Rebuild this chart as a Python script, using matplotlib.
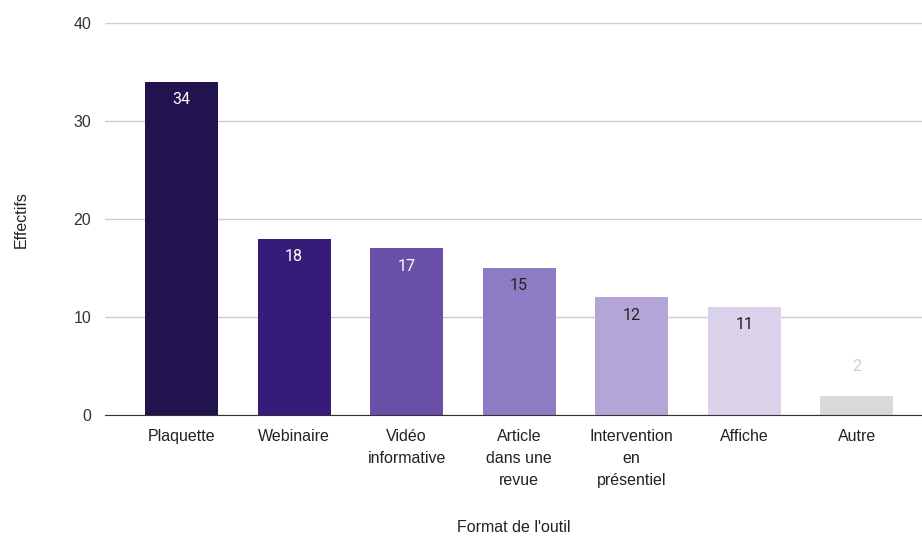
import matplotlib.pyplot as plt
import numpy as np

# données
categories = ['Plaquette', 'Webinaire', 'Vidéo\ninformative', 'Article\ndans une\nrevue',
              'Intervention\nen\nprésentiel', 'Affiche', 'Autre']
effectifs = [34, 18, 17, 15, 12, 11, 2]
bar_colors = ['#21134d', '#361c78', '#6a4fa8', '#8d7cc3', '#b3a6d6', '#dad2ea', '#d9d9d9']
label_colors = ['#ffffff', '#ffffff', '#ffffff', '#222222', '#222222', '#222222', '#d0d0d0']
yticks = [0, 10, 20, 30, 40]

fig = plt.figure(figsize=(9.22, 5.37), dpi=100)
ax = fig.add_axes([0.114, 0.227, 0.886, 0.73])

x = np.arange(len(categories))
bars = ax.bar(x, effectifs, width=0.65, color=bar_colors, zorder=2)

for i, (b, v) in enumerate(zip(bars, effectifs)):
    if v > 5:
        ax.text(b.get_x() + b.get_width() / 2, v - 1.8, str(v), ha='center', va='center',
                color=label_colors[i], fontsize=11.5, family='Roboto')
    else:
        ax.text(b.get_x() + b.get_width() / 2, v + 3, str(v), ha='center', va='center',
                color=label_colors[i], fontsize=11.5, family='Roboto')

ax.set_ylim(0, 40)
ax.set_xlim(-0.68, 6.58)
ax.set_yticks(yticks)
ax.set_xticks(x)
ax.set_xticklabels(categories, family='Liberation Sans', fontsize=11.5, color='#222222',
                   linespacing=1.6)
for lab in ax.get_yticklabels():
    lab.set_family('Liberation Sans')
    lab.set_fontsize(11.5)
    lab.set_color('#333333')

ax.yaxis.grid(True, color='#cccccc', linewidth=1, zorder=0)
ax.tick_params(length=0, pad=10)
ax.tick_params(axis='x', pad=10)
for s in ['top', 'right', 'left']:
    ax.spines[s].set_visible(False)
ax.spines['bottom'].set_color('#333333')
ax.spines['bottom'].set_zorder(3)

ax.set_xlabel("Format de l'outil", family='Liberation Sans', fontsize=11.5, color='#222222')
ax.xaxis.set_label_coords(0.5, -0.286)
ax.xaxis.label.set_va('center')
ax.set_ylabel('Effectifs', family='Liberation Sans', fontsize=11.5, color='#222222', labelpad=32)

plt.savefig('out.png', dpi=100)
